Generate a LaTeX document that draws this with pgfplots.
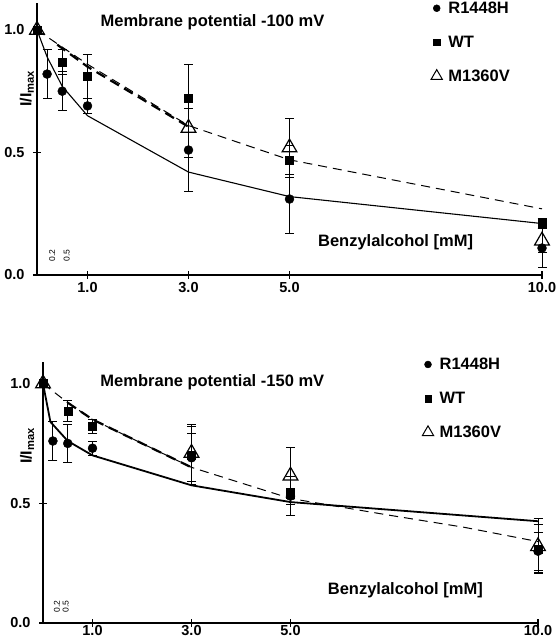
\documentclass[border=0pt]{standalone}
\usepackage{fontspec}
\setmainfont{Liberation Sans}
\usepackage{pgfplots}
\pgfplotsset{compat=1.18}
\begin{document}
\begin{tikzpicture}[x=1pt,y=1pt]
\useasboundingbox (0,0) rectangle (558,640);
\pgfplotsset{
  myax/.style={
    scale only axis, clip=false,
    axis x line=bottom, axis y line=left,
    axis line style={-, line width=1.5pt},
    xmin=0, xmax=10, ymin=0,
    xtick={1,3,5,10}, xticklabels={1.0,3.0,5.0,10.0},
    ytick={0,0.5,1}, yticklabels={0.0,0.5,1.0},
    tick align=center, major tick length=8pt,
    tick style={line width=1.3pt, black},
    tick label style={font=\bfseries\fontsize{14.5}{16}\selectfont},
    yticklabel style={xshift=-5pt},
    legend style={draw=none, fill=none, font=\bfseries\fontsize{16.5}{18}\selectfont, row sep=19pt, column sep=5pt, inner sep=0pt, nodes={inner sep=1pt}},
    legend cell align=left,
  },
  ebar/.style={only marks, black, error bars/y dir=both, error bars/y explicit,
    error bars/error bar style={line width=0.9pt, black},
    error bars/error mark options={black, line width=0.9pt, mark size=4.5pt, rotate=90}},
  circ/.style={ebar, mark=*, mark size=4.5pt},
  sq/.style={ebar, mark=square*, mark size=4pt},
  tri/.style={ebar, mark=triangle, mark size=8.5pt, mark options={line width=1.2pt, fill=none}},
}
% ---------------- top panel ----------------
\begin{axis}[myax, at={(37pt,365pt)}, anchor=south west, width=505pt, height=272pt, ymax=1.11,
  legend style={at={(rel axis cs:0.78,1.009)}, anchor=north west}]
\addplot[no marks, line width=1.1pt, forget plot] coordinates {(0,1.0) (0.2,0.89) (0.5,0.77) (1,0.65) (3,0.42) (5,0.32) (10,0.21)};
\addplot[no marks, line width=1.0pt, dash pattern=on 9pt off 6pt, forget plot] coordinates {(0,1.0) (1,0.86) (3,0.61) (5,0.47) (10,0.27)};
\addplot[no marks, line width=2.2pt, dash pattern=on 10pt off 6pt, forget plot] coordinates {(0.4,0.94) (1,0.85) (3,0.605)};
\addplot[circ, forget plot] coordinates {(0.2,0.82) +- (0,0.10) (0.5,0.75) +- (0,0.08) (1,0.69) +- (0,0.03) (3,0.51) +- (0,0.17) (5,0.31) +- (0,0.14) (10,0.11) +- (0,0.08)};
\addplot[sq, forget plot] coordinates {(0,1.0) (0.5,0.87) +- (0,0.05) (1,0.81) +- (0,0.09) (3,0.72) +- (0,0.14) (5,0.47) +- (0,0.06) (10,0.21) +- (0,0.02)};
\addplot[tri, forget plot] coordinates {(0,1.0) (3,0.60) +- (0,0.12) (5,0.52) +- (0,0.12) (10,0.14) +- (0,0.05)};
\addlegendimage{only marks, mark=*, mark size=3.5pt, black}
\addlegendentry{R1448H}
\addlegendimage{only marks, mark=square*, mark size=3.3pt, black}
\addlegendentry{WT}
\addlegendimage{only marks, mark=triangle, mark size=6.5pt, black, mark options={line width=1pt}}
\addlegendentry{M1360V}
\node[anchor=base west, font=\bfseries\fontsize{16.5}{18}\selectfont] at (axis cs:1.19,1.016) {Membrane potential -100 mV};
\node[anchor=base, font=\bfseries\fontsize{16.5}{18}\selectfont] at (axis cs:7.1,0.115) {Benzylalcohol [mM]};
\node[rotate=90, font=\bfseries\fontsize{16}{18}\selectfont] at (axis cs:-0.2,0.76) {I/I\textsubscript{max}};
\node[rotate=90, font=\fontsize{8.5}{9}\selectfont] at (axis cs:0.30,0.08) {0.2};
\node[rotate=90, font=\fontsize{8.5}{9}\selectfont] at (axis cs:0.59,0.08) {0.5};
\end{axis}
% ---------------- bottom panel ----------------
\begin{axis}[myax, at={(43pt,17pt)}, anchor=south west, width=495pt, height=261pt, ymax=1.09,
  xticklabel style={yshift=3pt, inner sep=1.5pt},
  legend style={at={(rel axis cs:0.766,1.02)}, anchor=north west}]
\addplot[no marks, line width=1.8pt, forget plot] coordinates {(0,1.0) (0.15,0.84) (0.5,0.76) (1,0.70) (3,0.575) (5,0.505) (10,0.425)};
\addplot[no marks, line width=1.0pt, dash pattern=on 9pt off 6pt, forget plot] coordinates {(0,1.0) (0.5,0.92) (1,0.85) (3,0.65) (5,0.52) (7,0.45) (8.5,0.40) (10,0.34)};
\addplot[no marks, line width=2.2pt, dash pattern=on 10pt off 6pt, forget plot] coordinates {(0.5,0.92) (1,0.85) (3,0.65)};
\addplot[circ, forget plot] coordinates {(0.2,0.76) +- (0,0.08) (0.5,0.75) +- (0,0.08) (1,0.73) +- (0,0.03) (3,0.69) +- (0,0.10) (5,0.53) +- (0,0.08) (10,0.30) +- (0,0.08)};
\addplot[sq, forget plot] coordinates {(0,1.0) (0.5,0.885) +- (0,0.045) (1,0.82) +- (0,0.03) (3,0.70) +- (0,0.12) (5,0.54) +- (0,0.02) (10,0.31) +- (0,0.10)};
\addplot[tri, forget plot] coordinates {(0,1.0) (3,0.71) +- (0,0.12) (5,0.615) +- (0,0.12) (10,0.32) +- (0,0.115)};
\addlegendimage{only marks, mark=*, mark size=3.5pt, black}
\addlegendentry{R1448H}
\addlegendimage{only marks, mark=square*, mark size=3.3pt, black}
\addlegendentry{WT}
\addlegendimage{only marks, mark=triangle, mark size=6.5pt, black, mark options={line width=1pt}}
\addlegendentry{M1360V}
\node[anchor=base west, font=\bfseries\fontsize{16.5}{18}\selectfont] at (axis cs:1.09,0.987) {Membrane potential -150 mV};
\node[anchor=base, font=\bfseries\fontsize{16.5}{18}\selectfont] at (axis cs:7.32,0.117) {Benzylalcohol [mM]};
\node[rotate=90, font=\bfseries\fontsize{16}{18}\selectfont] at (axis cs:-0.32,0.74) {I/I\textsubscript{max}};
\node[rotate=90, font=\fontsize{8.5}{9}\selectfont] at (axis cs:0.28,0.07) {0.2};
\node[rotate=90, font=\fontsize{8.5}{9}\selectfont] at (axis cs:0.46,0.07) {0.5};
\end{axis}
\end{tikzpicture}
\end{document}
